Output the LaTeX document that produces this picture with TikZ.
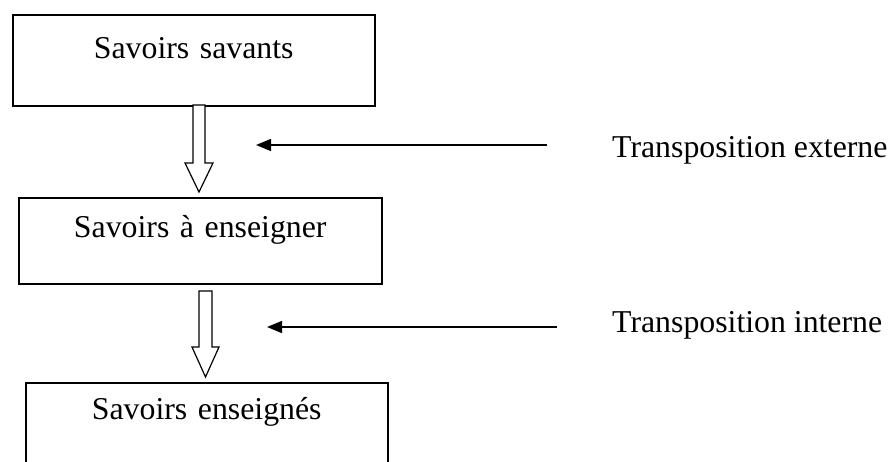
\documentclass[tikz,border=0pt]{standalone}
\usepackage{fontspec}
\setmainfont{Liberation Serif}
\usetikzlibrary{arrows.meta, positioning}

\begin{document}
\begin{tikzpicture}[
    x=1pt, y=-1pt,
    box/.style={rectangle, draw, line width=1.5pt, inner sep=0pt, anchor=north west, align=center, font=\fontsize{31.8}{38}\selectfont},
    caption/.style={anchor=base west, inner sep=0pt, font=\fontsize{31.8}{38}\selectfont},
    hollow/.style={draw, line width=1.2pt, fill=white, line join=miter},
    pointer/.style={line width=1.5pt, -{Triangle[length=15pt, width=12pt]}}
]

% frame of the page
\clip (0,0) rectangle (893,461);

% the three levels of knowledge
\node[box, text width=362pt, text height=44pt, text depth=47pt] (savants) at (12,14) {Savoirs savants};
\node[box, text width=363pt, text height=40pt, text depth=46pt] (enseigner) at (18,197) {Savoirs à enseigner};
\node[box, text width=362pt, text height=37pt, text depth=100pt] (enseignes) at (25,382) {Savoirs enseignés};

% hollow arrows between levels
\draw[hollow] (193,105) -- (193,163) -- (185,163) -- (199,192) -- (213,163) -- (205,163) -- (205,105) -- cycle;
\draw[hollow] (199,291) -- (199,347) -- (192,347) -- (205.5,377) -- (219,347) -- (212,347) -- (212,291) -- cycle;

% labels on the right
\node[caption] (externe) at (612,157) {Transposition externe};
\node[caption] (interne) at (612,332) {Transposition interne};

% pointing arrows
\coordinate (externeStart) at (547,145);
\coordinate (externeTip) at (256,145);
\coordinate (interneStart) at (557,327);
\coordinate (interneTip) at (267,327);
\draw[pointer] (externeStart) -- (externeTip);
\draw[pointer] (interneStart) -- (interneTip);

\end{tikzpicture}
\end{document}
